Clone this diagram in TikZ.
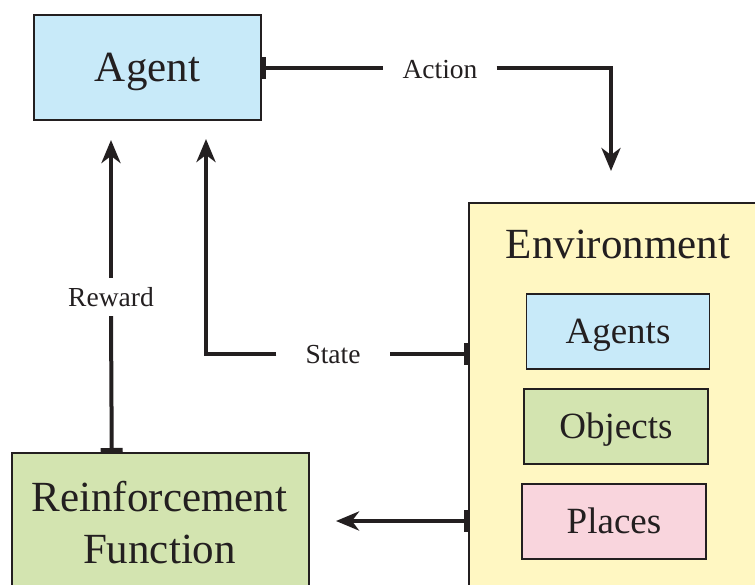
\documentclass[tikz,border=0pt]{standalone}
\usepackage{fontspec}
\setmainfont{Liberation Serif}
\usetikzlibrary{arrows.meta}

\definecolor{ink}{RGB}{35,31,32}
\definecolor{agentblue}{RGB}{200,234,249}
\definecolor{envyellow}{RGB}{255,247,194}
\definecolor{funcgreen}{RGB}{211,228,176}
\definecolor{placepink}{RGB}{249,213,221}

\begin{document}
\begin{tikzpicture}[x=1pt,y=-1pt,
    box/.style={draw=ink,line width=1.5pt,text=ink,inner sep=0pt,text depth=0pt},
    big/.style={font=\fontsize{43}{53}\selectfont,text height=28.5pt},
    mid/.style={font=\fontsize{37}{44}\selectfont,text height=24.5pt},
    tag/.style={font=\fontsize{27.5}{33}\selectfont,text=ink,text height=18pt,text depth=0pt,inner ysep=10pt},
    wire/.style={draw=ink,line width=4pt},
    from/.style={wire,{Bar[width=22pt]}-},
    into/.style={wire,-{Stealth[length=23pt,width=19pt,inset=7pt]}},
    link/.style={wire,{Bar[width=22pt]}-{Stealth[length=23pt,width=19pt,inset=7pt]}}]

    \useasboundingbox (0,0) rectangle (755,584);
    \clip (0,0) rectangle (755,584);

    % boxes
    \node (agent) [box,big,fill=agentblue,minimum width=227,minimum height=105] at (147.5,67.5) {Agent};
    \node (env) [box,fill=envyellow,anchor=north west,minimum width=330,minimum height=430] at (468,202) {};
    \node (envtitle) [font=\fontsize{43}{53}\selectfont,text=ink,anchor=base] at (618,258) {Environment};
    \node (agents) [box,mid,fill=agentblue,minimum width=183,minimum height=75] at (618,331.5) {Agents};
    \node (objects) [box,mid,fill=funcgreen,minimum width=184,minimum height=75] at (616,426.5) {Objects};
    \node (places) [box,mid,fill=placepink,minimum width=184,minimum height=75] at (614,521.5) {Places};
    \node (reinf) [box,fill=funcgreen,anchor=north west,minimum width=297,minimum height=180] at (11,452) {};
    \node (reinftext) [font=\fontsize{43}{52}\selectfont,text=ink,align=center,anchor=base] at (159.5,563) {Reinforcement\\Function};

    % labels on the connectors
    \node (action) [tag,anchor=base,inner xsep=19pt] at (440,78) {Action};
    \node (state) [tag,anchor=base,inner xsep=29pt] at (333,363) {State};
    \node (reward) [tag,anchor=base] at (111,306) {Reward};

    % free ends of the arrows
    \coordinate (actiontip) at (611,171);
    \coordinate (statetip) at (206,139);
    \coordinate (rewardtip) at (111,140);
    \coordinate (feedtip) at (336,521);

    \draw[from] (agent.east) -- (action.west |- agent.east);
    \draw[into] (action.east |- agent.east) -| (actiontip);
    \draw[from] ([yshift=-152pt]env.north west) -- (state.east |- 0,354);
    \draw[into] (state.west |- 0,354) -| (statetip);
    \draw[from] ([xshift=-48.5pt]reinf.north) -- (reward.south);
    \draw[into] (reward.north) -- (rewardtip);
    \draw[link] ([yshift=-319pt]env.north west) -- (feedtip);
\end{tikzpicture}
\end{document}
